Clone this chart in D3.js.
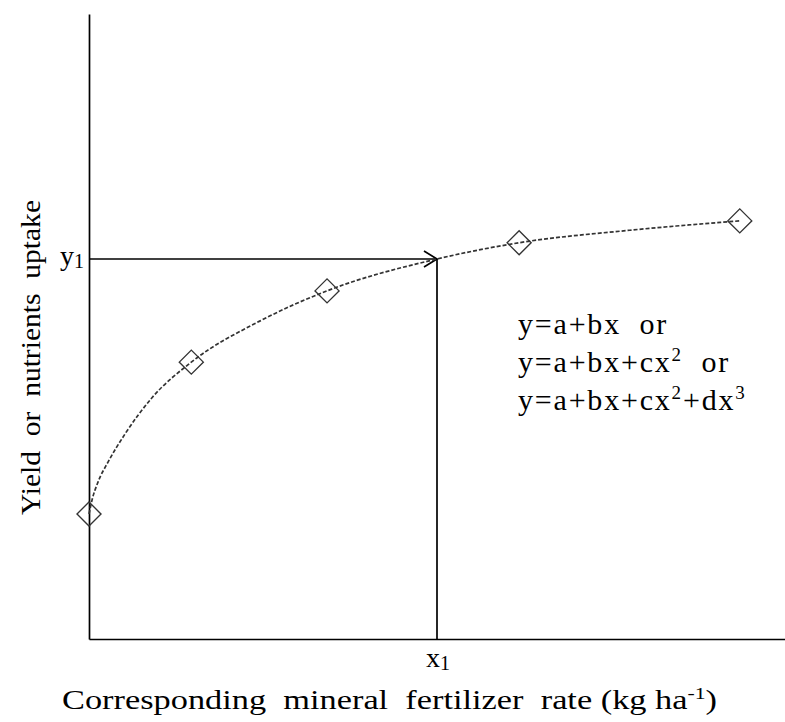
<!DOCTYPE html>
<html>
<head>
<meta charset="utf-8">
<script src="https://cdn.jsdelivr.net/npm/d3@7"></script>
<style>
  body { margin: 0; background: #fff; }
  svg text { font-family: "Liberation Serif", "Times New Roman", "DejaVu Serif", serif; fill: #000; white-space: pre; }
</style>
</head>
<body>
<svg id="mainsvg" width="785" height="722"></svg>
<script>
// observed points (diamonds), axis units 0..100
const obsX = [0, 14.7, 34.2, 61.8, 93.5];
const obsY = [20, 44.3, 55.7, 63.4, 66.9];

// fitted response curve
const fitX = [0, 0.43, 1.29, 2.73, 5.17, 9.05, 14.7, 24.6, 34.2, 50, 61.8, 77.7, 93.5];
const fitY = [20, 22.2, 25.1, 28.3, 32.8, 38.6, 44.3, 50.9, 55.7, 60.8, 63.4, 65.4, 66.9];

// reading point (x1, y1) on the curve
const readX = 50;
const readY = 60.8;

const equations = [
  [["y=a+bx  or", ""]],
  [["y=a+bx+cx", ""], ["2", "sup"], ["  or", ""]],
  [["y=a+bx+cx", ""], ["2", "sup"], ["+dx", ""], ["3", "sup"]]
];

const serif = '"Liberation Serif", "Times New Roman", "DejaVu Serif", serif';
const svg = d3.select("#mainsvg").attr("font-family", serif);
const xScale = d3.scaleLinear().domain([0, 100]).range([89, 785]);
const yScale = d3.scaleLinear().domain([0, 100]).range([639, 14]);

// axes (no ticks)
svg.append("g")
  .attr("transform", `translate(0, ${yScale(0)})`)
  .call(d3.axisBottom(xScale).tickValues([]).tickSizeOuter(0))
  .select(".domain").attr("stroke", "#000").attr("stroke-width", 1.7);

svg.append("g")
  .attr("transform", `translate(${xScale(0)}, 0)`)
  .call(d3.axisLeft(yScale).tickValues([]).tickSizeOuter(0))
  .select(".domain").attr("stroke", "#000").attr("stroke-width", 1.7);

// arrowhead
svg.append("defs").append("marker")
  .attr("id", "arrow")
  .attr("viewBox", "-14 -9 16 18")
  .attr("refX", 0).attr("refY", 0)
  .attr("markerWidth", 16).attr("markerHeight", 18)
  .attr("markerUnits", "userSpaceOnUse")
  .attr("orient", "auto")
  .append("path")
  .attr("d", "M-13,-8 L0,0 L-13,8")
  .attr("fill", "none").attr("stroke", "#000").attr("stroke-width", 1.7);

// guide lines x1 / y1
svg.append("line")
  .attr("x1", xScale(readX)).attr("x2", xScale(readX))
  .attr("y1", yScale(0)).attr("y2", yScale(readY))
  .attr("stroke", "#000").attr("stroke-width", 1.7);

svg.append("line")
  .attr("x1", xScale(0)).attr("x2", xScale(readX))
  .attr("y1", yScale(readY)).attr("y2", yScale(readY))
  .attr("stroke", "#000").attr("stroke-width", 1.7)
  .attr("marker-end", "url(#arrow)");

// dashed fitted curve
const fitData = fitX.map((d, i) => [d, fitY[i]]);
const line = d3.line()
  .x(d => xScale(d[0]))
  .y(d => yScale(d[1]))
  .curve(d3.curveMonotoneX);

svg.append("path")
  .datum(fitData)
  .attr("d", line)
  .attr("fill", "none")
  .attr("stroke", "#333")
  .attr("stroke-width", 1.7)
  .attr("stroke-dasharray", "4,2");

// diamonds
const obsData = obsX.map((d, i) => [d, obsY[i]]);
svg.selectAll(".obs")
  .data(obsData)
  .enter().append("path")
  .attr("class", "obs")
  .attr("transform", d => `translate(${xScale(d[0])}, ${yScale(d[1])})`)
  .attr("d", "M0,-12 L12,0 L0,12 L-12,0 Z")
  .attr("fill", "none")
  .attr("stroke", "#333")
  .attr("stroke-width", 1.4);

// y1 label
const y1 = svg.append("text")
  .attr("x", xScale(0) - 5).attr("y", yScale(readY) + 6)
  .attr("text-anchor", "end")
  .attr("font-size", 28);
y1.append("tspan").text("y");
y1.append("tspan").attr("font-size", 20).attr("dy", 3).text("1");

// x1 label
const x1 = svg.append("text")
  .attr("x", xScale(readX) - 11).attr("y", 667)
  .attr("font-size", 28);
x1.append("tspan").text("x");
x1.append("tspan").attr("font-size", 20).attr("dy", 3).text("1");

// axis titles
const xt = svg.append("text")
  .attr("x", 62).attr("y", 709)
  .attr("font-size", 27)
  .attr("textLength", 655)
  .attr("lengthAdjust", "spacingAndGlyphs");
xt.append("tspan").text("Corresponding  mineral  fertilizer  rate (kg ha");
xt.append("tspan").attr("font-size", 17).attr("dy", -10).text("-1");
xt.append("tspan").attr("dy", 10).text(")");

svg.append("text")
  .attr("transform", `translate(40, 515) rotate(-90)`)
  .attr("font-size", 27)
  .attr("textLength", 315)
  .attr("lengthAdjust", "spacingAndGlyphs")
  .text("Yield  or  nutrients  uptake");

// equations
equations.forEach((parts, i) => {
  const t = svg.append("text")
    .attr("x", 518).attr("y", 334 + i * 38)
    .attr("font-size", 30)
    .attr("letter-spacing", 1.8);
  parts.forEach(p => {
    const s = t.append("tspan").text(p[0]);
    if (p[1] === "sup") s.attr("font-size", 19).attr("dy", -11);
    else if (s.node().previousSibling) s.attr("dy", 11);
  });
});
</script>
</body>
</html>
